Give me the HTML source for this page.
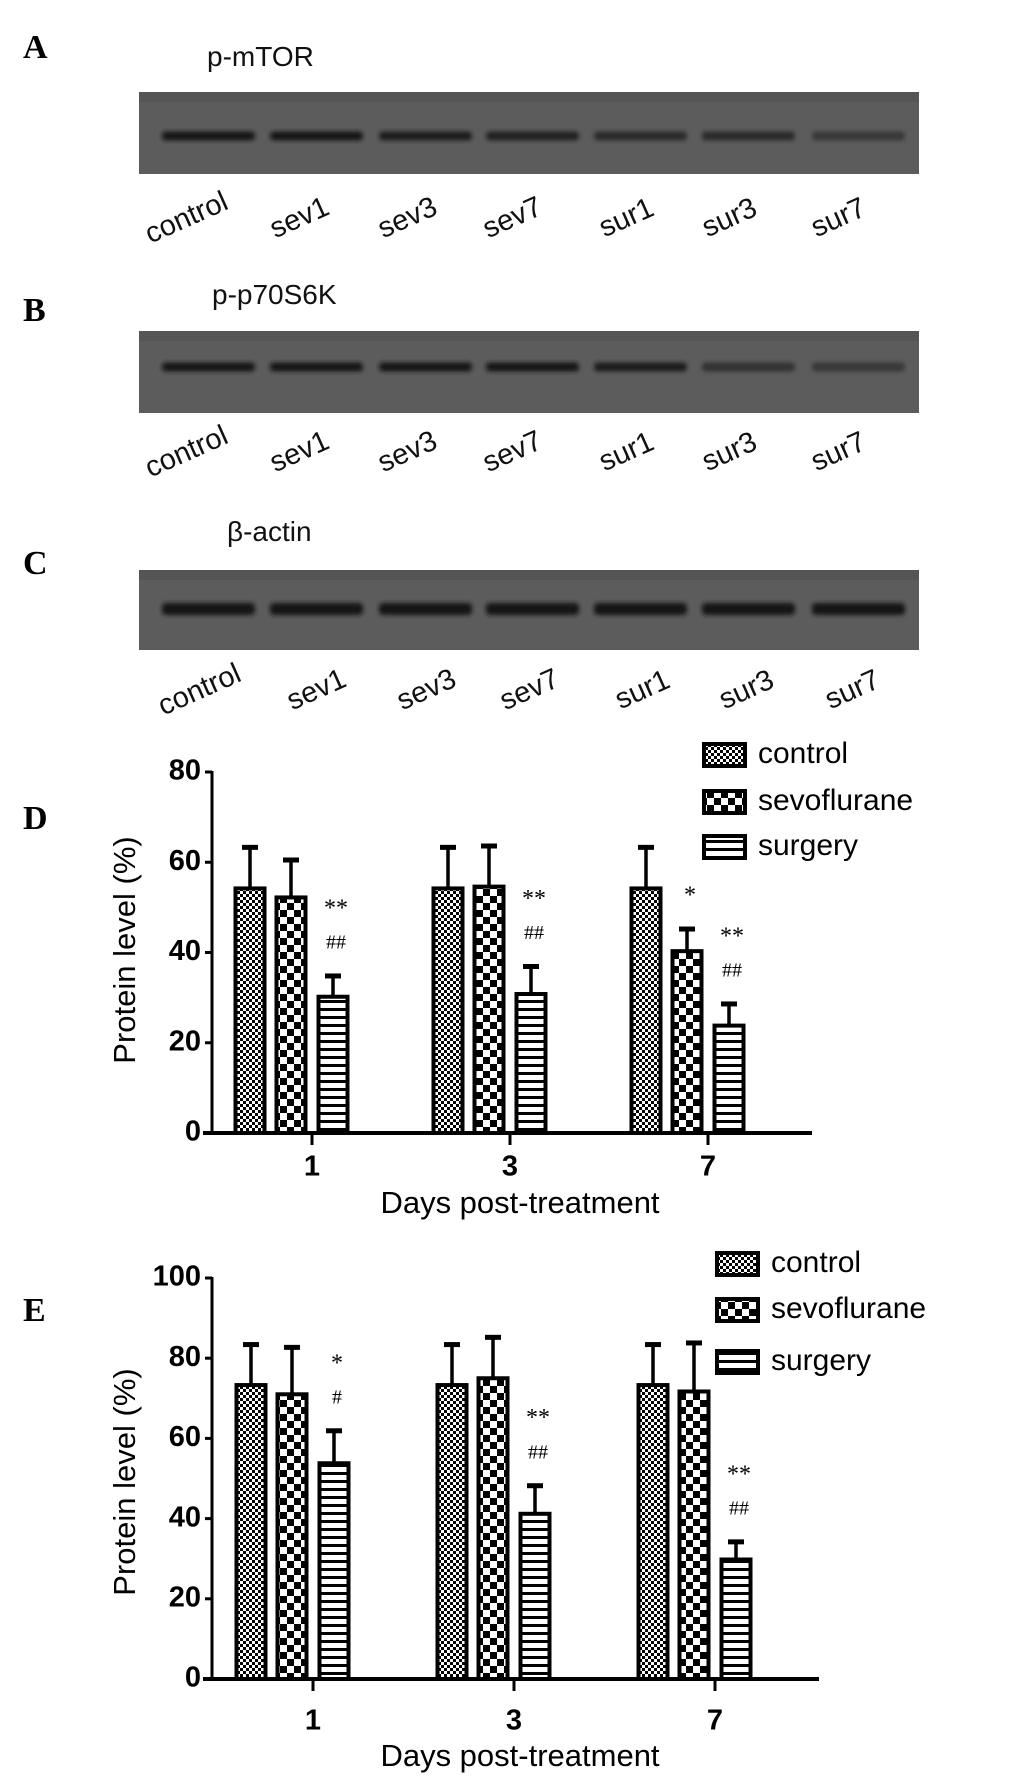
<!DOCTYPE html>
<html><head><meta charset="utf-8"><style>
html,body{margin:0;padding:0;background:#fff;}
svg{display:block;font-family:"Liberation Sans",sans-serif;}
.pl{font-family:"Liberation Serif",serif;font-weight:bold;font-size:34px;}
</style></head><body>
<svg id="fig" width="1033" height="1782" viewBox="0 0 1033 1782">
<defs>
<pattern id="pCtrl" patternUnits="userSpaceOnUse" width="6" height="6"><rect width="6" height="6" fill="#fff"/><rect width="3" height="3" fill="#000"/><rect x="3" y="3" width="3" height="3" fill="#000"/></pattern>
<pattern id="pSevo" patternUnits="userSpaceOnUse" width="14" height="14"><rect width="14" height="14" fill="#fff"/><rect width="7" height="7" fill="#000"/><rect x="7" y="7" width="7" height="7" fill="#000"/></pattern>
<pattern id="pSurg" patternUnits="userSpaceOnUse" width="8" height="8"><rect width="8" height="8" fill="#fff"/><rect y="0" width="8" height="3" fill="#000"/></pattern>
<filter id="blur" x="-10%" y="-100%" width="120%" height="300%"><feGaussianBlur stdDeviation="2.2"/></filter>
</defs>
<g id="blots"></g>
<g id="chartD"></g>
<g id="chartE"></g>
</svg>
<script>
const NS="http://www.w3.org/2000/svg";
function mk(tag,attrs,parent,text){const e=document.createElementNS(NS,tag);for(const k in attrs)e.setAttribute(k,attrs[k]);if(text!==undefined)e.textContent=text;parent.appendChild(e);return e;}

// ---------- blots data ----------
const laneLabels=["control","sev1","sev3","sev7","sur1","sur3","sur7"];
const mtorIntensity=[1.0,0.95,0.9,0.8,0.7,0.7,0.5];
const p70Intensity=[0.95,0.95,0.95,0.95,0.85,0.6,0.5];
const actinIntensity=[1,1,1,1,1,1,1];

const blotG=document.getElementById('blots');
const laneX=[208,316,425,532,640,748,858];
const blots=[
 {letter:"A",ly:58,title:"p-mTOR",tx:207,ty:66,top:92,h:82,band:136,int:mtorIntensity,labY:219,labX:[187,300,408,513,627,730,839]},
 {letter:"B",ly:321,title:"p-p70S6K",tx:212,ty:304,top:331,h:82,band:367,int:p70Intensity,labY:453,labX:[187,300,408,513,627,730,839]},
 {letter:"C",ly:574,title:"β-actin",tx:227,ty:541,top:570,h:80,band:609,int:actinIntensity,labY:691,labX:[200,317,427,530,643,747,853]}
];
blots.forEach((b,bi)=>{
  const g=mk('g',{},blotG);
  
  
  const L=mk('text',{x:23,y:b.ly,class:'pl'},g,b.letter);
  
  
  const T=mk('text',{x:b.tx,y:b.ty,'font-size':28,fill:'#111'},g,b.title);
  
  
  const R=mk('rect',{x:139,y:b.top,width:780,height:b.h,fill:'#5c5c5c'},g);
  
  
  mk('rect',{x:139,y:b.top,width:780,height:10,fill:'#555'},g);
  b.int.forEach((v,i)=>{
    const c=Math.round(90-70*v);
    const bd=mk('rect',{x:laneX[i]-46,y:b.band-(bi==2?6:4.5),width:93,height:bi==2?12:9,rx:4,fill:`rgb(${c},${c},${c})`,filter:'url(#blur)'},g);
    
    
  });
  laneLabels.forEach((lab,i)=>{
    const t=mk('text',{x:b.labX[i],y:b.labY,'font-size':29,'text-anchor':'middle','dominant-baseline':'middle',fill:'#111',transform:`rotate(-24 ${b.labX[i]} ${b.labY})`},g,lab);
    
    
  });
});

// ---------- chart data ----------
const days=["1","3","7"];
const seriesNames=["control","sevoflurane","surgery"];
const dControl=[54.2,54.2,54.2];
const dSevo=[52.2,54.6,40.3];
const dSurg=[30.2,30.8,23.8];
const dControlErr=[63.3,63.3,63.3];
const dSevoErr=[60.5,63.6,45.2];
const dSurgErr=[34.8,36.9,28.6];
const dTicks=[0,20,40,60,80];
const eControl=[73.3,73.3,73.3];
const eSevo=[71.0,75.0,71.7];
const eSurg=[53.8,41.2,29.8];
const eControlErr=[83.4,83.4,83.4];
const eSevoErr=[82.7,85.2,83.8];
const eSurgErr=[61.9,48.2,34.2];
const eTicks=[0,20,40,60,80,100];
// annotations: [groupIndex, seriesIndex, star, hash]
const dNotes=[[0,2,"**","##"],[1,2,"**","##"],[2,1,"*",""],[2,2,"**","##"]];
const eNotes=[[0,2,"*","#"],[1,2,"**","##"],[2,2,"**","##"]];

function drawChart(cfg){
  const g=document.getElementById(cfg.id);
  
  
  const yS=v=>cfg.y0-(v-0)/(cfg.max)*(cfg.y0-cfg.yTop);
  const xS=i=>cfg.x0+i*cfg.step;
  const L=mk('text',{x:23,y:cfg.letterY,class:'pl'},g,cfg.letter);
  
  
  const ya=mk('line',{x1:212,y1:cfg.yTop-1,x2:212,y2:cfg.y0+2,stroke:'#000','stroke-width':3},g);
  
  
  cfg.ticks.forEach(t=>{
    mk('line',{x1:205,y1:yS(t),x2:212,y2:yS(t),stroke:'#000','stroke-width':3},g);
    const tl=mk('text',{x:201,y:yS(t),'font-size':29,'font-weight':'bold','text-anchor':'end','dominant-baseline':'middle'},g,String(t));
    
    
  });
  const yt=mk('text',{x:0,y:0,'font-size':31,'text-anchor':'middle','dominant-baseline':'middle',transform:`translate(127 ${cfg.yTitleY}) rotate(-90)`},g,'Protein level (%)');
  
  
  const vals=[cfg.c,cfg.s,cfg.u], errs=[cfg.ce,cfg.se,cfg.ue], fills=['url(#pCtrl)','url(#pSevo)','url(#pSurg)'];
  const offs=[-62,-21,21], bw=29;
  days.forEach((d,i)=>{
    for(let s=0;s<3;s++){
      const cx=xS(i)+offs[s];
      const el=mk('line',{x1:cx,y1:yS(errs[s][i]),x2:cx,y2:yS(vals[s][i]),stroke:'#000','stroke-width':3.5},g);
      
      
      mk('line',{x1:cx-8,y1:yS(errs[s][i]),x2:cx+8,y2:yS(errs[s][i]),stroke:'#000','stroke-width':5},g);
      const r=mk('rect',{x:cx-bw/2,y:yS(vals[s][i]),width:bw,height:cfg.y0-yS(vals[s][i]),fill:fills[s],stroke:'#000','stroke-width':4},g);
      
      
    }
    mk('line',{x1:xS(i),y1:cfg.y0,x2:xS(i),y2:cfg.y0+12,stroke:'#000','stroke-width':3},g);
    const xl=mk('text',{x:xS(i),y:cfg.xLabY,'font-size':29,'font-weight':'bold','text-anchor':'middle','dominant-baseline':'middle'},g,d);
    
    
  });
  const xa=mk('line',{x1:203,y1:cfg.y0,x2:cfg.xEnd,y2:cfg.y0,stroke:'#000','stroke-width':4},g);
  
  
  const xt=mk('text',{x:520,y:cfg.xTitleY,'font-size':31,'text-anchor':'middle','dominant-baseline':'middle'},g,'Days post-treatment');
  
  
  cfg.notes.forEach(n=>{
    const cx=xS(n[0])+offs[n[1]]+3;
    const top=yS(errs[n[1]][n[0]]);
    const hasHash=n[3]!=="";
    const starY=hasHash?top-66:top-32, hashY=top-32;
    const st=mk('text',{x:cx,y:starY,'font-size':24,'text-anchor':'middle','dominant-baseline':'middle','font-family':'Liberation Serif'},g,n[2]);
    
    
    if(hasHash){
      const h=mk('text',{x:cx,y:hashY,'font-size':20,'text-anchor':'middle','dominant-baseline':'middle','font-family':'Liberation Serif'},g,n[3]);
      
      
    }
  });
  const lg=mk('g',{},g);
  
  
  seriesNames.forEach((nm,s)=>{
    const y=cfg.legY[s];
    const e=mk('g',{},lg);
    
    
    mk('rect',{x:cfg.legX+2,y:y-11,width:41,height:22,fill:fills[s],stroke:'#000','stroke-width':4},e);
    mk('text',{x:cfg.legX+56,y:y,'font-size':30,'dominant-baseline':'middle'},e,nm);
  });
}
drawChart({id:'chartD',name:'bar-chart-d',letter:'D',letterY:829,y0:1133,yTop:772,max:80,ticks:dTicks,x0:312,step:198,xEnd:812,
  c:dControl,s:dSevo,u:dSurg,ce:dControlErr,se:dSevoErr,ue:dSurgErr,notes:dNotes,xLabY:1168,xTitleY:1205,yTitleY:950,
  legX:702,legY:[755,802,847]});
drawChart({id:'chartE',name:'bar-chart-e',letter:'E',letterY:1321,y0:1679,yTop:1278,max:100,ticks:eTicks,x0:313,step:201,xEnd:819,
  c:eControl,s:eSevo,u:eSurg,ce:eControlErr,se:eSevoErr,ue:eSurgErr,notes:eNotes,xLabY:1722,xTitleY:1758,yTitleY:1482,
  legX:715,legY:[1264,1310,1362]});
</script>
</body></html>
